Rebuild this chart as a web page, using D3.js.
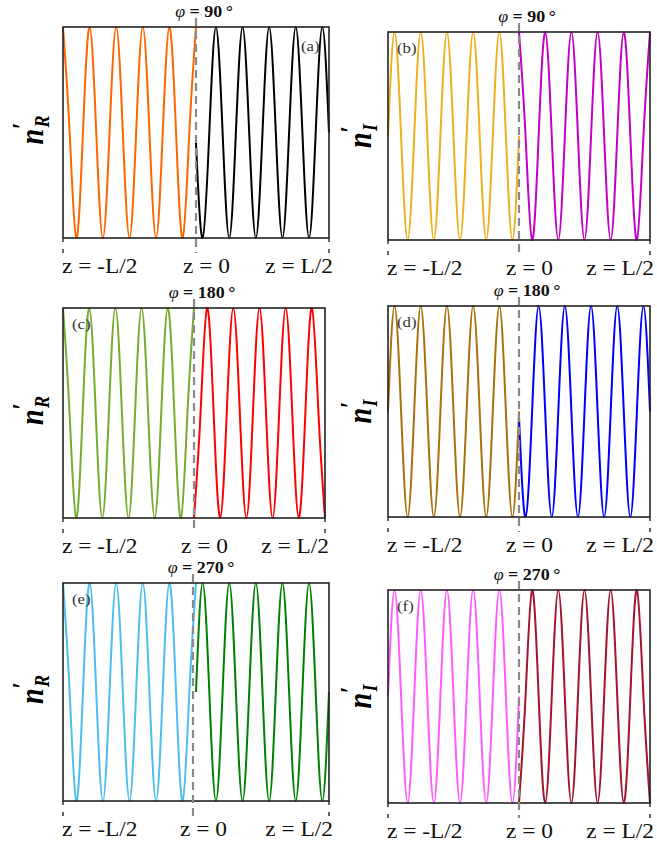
<!DOCTYPE html>
<html>
<head>
<meta charset="utf-8">
<script src="https://cdn.jsdelivr.net/npm/d3@7"></script>
<style>
  body { margin: 0; background: #fff; }
  svg { display: block; }
  text { font-family: "Liberation Serif", "Times New Roman", Times, serif; }
</style>
</head>
<body>
<svg id="chart" width="657" height="845"></svg>
<script>
// sample positions along z (quarter-period steps, 5 periods on each side)
const zLeft = [-0.5, -0.475, -0.45, -0.425, -0.4, -0.375, -0.35, -0.325, -0.3, -0.275, -0.25,
               -0.225, -0.2, -0.175, -0.15, -0.125, -0.1, -0.075, -0.05, -0.025, 0];
const zRight = [0, 0.025, 0.05, 0.075, 0.1, 0.125, 0.15, 0.175, 0.2, 0.225, 0.25,
                0.275, 0.3, 0.325, 0.35, 0.375, 0.4, 0.425, 0.45, 0.475, 0.5];

// values at those positions
const aLeft  = [1, 0, -1, 0, 1, 0, -1, 0, 1, 0, -1, 0, 1, 0, -1, 0, 1, 0, -1, 0, 1];
const aRight = [-0.1, -1, 0, 1, 0, -1, 0, 1, 0, -1, 0, 1, 0, -1, 0, 1, 0, -1, 0, 1, 0];
const bLeft  = [0, 1, 0, -1, 0, 1, 0, -1, 0, 1, 0, -1, 0, 1, 0, -1, 0, 1, 0, -1, 0];
const bRight = [1, 0, -1, 0, 1, 0, -1, 0, 1, 0, -1, 0, 1, 0, -1, 0, 1, 0, -1, 0, 1];
const cLeft  = [1, 0, -1, 0, 1, 0, -1, 0, 1, 0, -1, 0, 1, 0, -1, 0, 1, 0, -1, 0, 1];
const cRight = [-1, 0, 1, 0, -1, 0, 1, 0, -1, 0, 1, 0, -1, 0, 1, 0, -1, 0, 1, 0, -1];
const dLeft  = [0, 1, 0, -1, 0, 1, 0, -1, 0, 1, 0, -1, 0, 1, 0, -1, 0, 1, 0, -1, 0];
const dRight = [-0.05, -1, 0, 1, 0, -1, 0, 1, 0, -1, 0, 1, 0, -1, 0, 1, 0, -1, 0, 1, 0];
const eLeft  = [1, 0, -1, 0, 1, 0, -1, 0, 1, 0, -1, 0, 1, 0, -1, 0, 1, 0, -1, 0, 1];
const eRight = [0, 1, 0, -1, 0, 1, 0, -1, 0, 1, 0, -1, 0, 1, 0, -1, 0, 1, 0, -1, 0];
const fLeft  = [0, 1, 0, -1, 0, 1, 0, -1, 0, 1, 0, -1, 0, 1, 0, -1, 0, 1, 0, -1, 0];
const fRight = [-1, 0, 1, 0, -1, 0, 1, 0, -1, 0, 1, 0, -1, 0, 1, 0, -1, 0, 1, 0, -1];

const panelTags = ["(a)", "(b)", "(c)", "(d)", "(e)", "(f)"];
const phiValues = ["90", "180", "270"];
const yNames = ["R", "I"];
const zTicks = [-0.5, 0, 0.5];
const zTickLabels = ["z = -L/2", "z = 0", "z = L/2"];

// colours: left half, right half
const leftColors  = ["#ff6600", "#edb120", "#77ac30", "#a8720c", "#4dbeee", "#ff5cff"];
const rightColors = ["#000000", "#c400c4", "#ff0000", "#0000ff", "#008000", "#a2142f"];

const leftSeries  = [aLeft, bLeft, cLeft, dLeft, eLeft, fLeft];
const rightSeries = [aRight, bRight, cRight, dRight, eRight, fRight];

// layout of each panel box (pixels)
const boxes = [
    { x0: 63, x1: 329, y0: 27, y1: 238, mid: 0 },
    { x0: 388, x1: 650, y0: 32, y1: 240, mid: 0 },
    { x0: 63, x1: 325, y0: 308, y1: 518, mid: 0 },
    { x0: 388, x1: 650, y0: 306, y1: 517, mid: 0 },
    { x0: 63, x1: 329, y0: 583, y1: 801, mid: -3 },
    { x0: 388, x1: 650, y0: 590, y1: 803, mid: 0 }
];

const stretch = 1.17;   // the original figure is widened horizontally

const svg = d3.select("#chart");
svg.append("rect").attr("width", 657).attr("height", 845).attr("fill", "#fff");

boxes.forEach(function (b, i) {
    let col = i % 2;
    let row = Math.floor(i / 2);

    let x = d3.scaleLinear().domain([-0.5, 0.5]).range([b.x0, b.x1]);
    let y = d3.scaleLinear().domain([-1, 1]).range([b.y1, b.y0]);

    let g = svg.append("g").attr("class", "panel");

    let line = d3.line()
        .x(d => x(d[0]))
        .y(d => y(d[1]))
        .curve(d3.curveNatural);

    g.append("path")
        .datum(d3.zip(zLeft, leftSeries[i]))
        .attr("d", line)
        .attr("fill", "none")
        .attr("stroke", leftColors[i])
        .attr("stroke-width", 2);

    g.append("path")
        .datum(d3.zip(zRight, rightSeries[i]))
        .attr("d", line)
        .attr("fill", "none")
        .attr("stroke", rightColors[i])
        .attr("stroke-width", 2);

    // frame
    g.append("rect")
        .attr("x", b.x0)
        .attr("y", b.y0)
        .attr("width", b.x1 - b.x0)
        .attr("height", b.y1 - b.y0)
        .attr("fill", "none")
        .attr("stroke", "#222")
        .attr("stroke-width", 1.6);

    // ticks under the frame
    zTicks.forEach(function (t, k) {
        let tx = x(t) + (t === 0 ? b.mid : 0);
        if (t !== 0) {
            g.append("line")
                .attr("x1", tx).attr("x2", tx)
                .attr("y1", b.y1).attr("y2", b.y1 + 15)
                .attr("stroke", "#333")
                .attr("stroke-width", 1.5)
                .attr("stroke-dasharray", "4,7");
        }
        let anchor = ["start", "start", "end"][k];
        let off = [-1, -13, 4][k];
        g.append("text")
            .attr("transform", `translate(${tx + off},${b.y1 + 35}) scale(${stretch},1)`)
            .attr("text-anchor", anchor)
            .attr("font-size", 20)
            .attr("fill", "#111")
            .text(zTickLabels[k]);
    });

    // dashed divider at z = 0
    let zx = x(0) + b.mid;
    g.append("line")
        .attr("x1", zx).attr("x2", zx)
        .attr("y1", b.y0 - 9).attr("y2", b.y1 + 15)
        .attr("stroke", "#8a8a8a")
        .attr("stroke-width", 2.2)
        .attr("stroke-dasharray", "8,5");

    // phi label
    let phi = g.append("text")
        .attr("transform", `translate(${zx + 8},${b.y0 - 10}) scale(1.12,1)`)
        .attr("text-anchor", "middle")
        .attr("font-size", 16)
        .attr("fill", "#111");
    phi.append("tspan").attr("font-style", "italic").text("\u03c6");
    phi.append("tspan").attr("font-weight", "bold").text(" = " + phiValues[row] + "\u2009\u00b0");

    // panel tag
    let tagX = i === 0 ? b.x1 - 28 : b.x0 + 9;
    let tagY = i === 0 ? b.y0 + 24 : b.y0 + 21;
    g.append("text")
        .attr("transform", `translate(${tagX},${tagY}) scale(1.12,1)`)
        .attr("font-size", 15)
        .attr("fill", "#333")
        .text(panelTags[i]);

    // y label  n'_R / n'_I
    let lx = b.x0 - (col === 0 ? 20 : 17);
    let ly = (b.y0 + b.y1) / 2 - 4;
    let lab = g.append("text")
        .attr("transform", `translate(${lx},${ly}) rotate(-90) scale(1,${stretch})`)
        .attr("font-style", "italic")
        .attr("font-weight", "bold")
        .attr("fill", "#000");
    lab.append("tspan").attr("x", -16).attr("y", 0).attr("font-size", 28).text("n");
    lab.append("tspan").attr("x", -1).attr("y", -10).attr("font-size", 24).text("\u2032");
    lab.append("tspan").attr("x", 1).attr("y", 5).attr("font-size", 18).text(yNames[col]);
});
</script>
</body>
</html>
